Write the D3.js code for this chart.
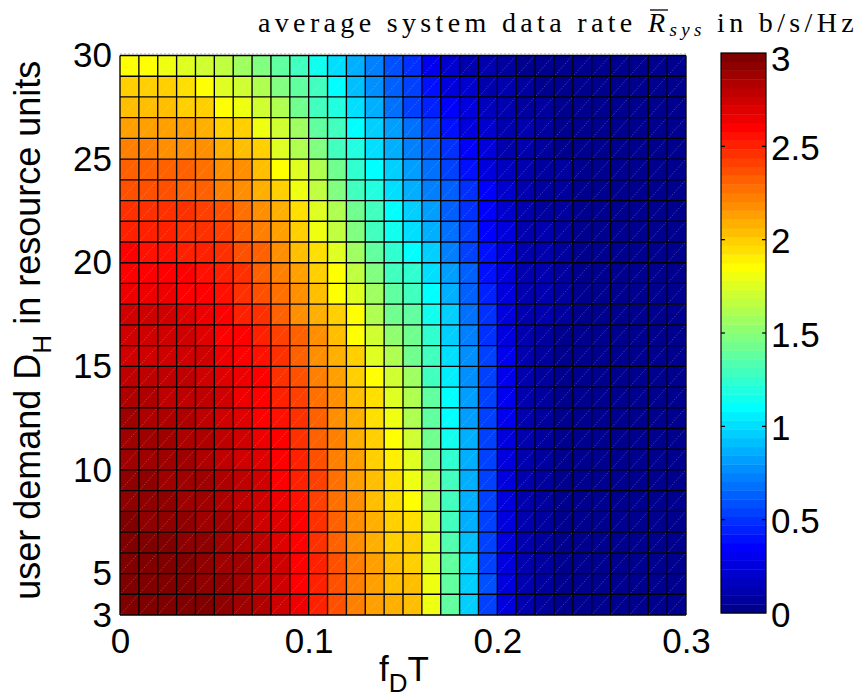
<!DOCTYPE html>
<html>
<head>
<meta charset="utf-8">
<script src="https://cdn.jsdelivr.net/npm/d3@7"></script>
<style>
  html, body { margin: 0; padding: 0; background: #fff; }
  svg { display: block; }
  .tick text { font-family: "Liberation Sans", Arial, sans-serif; font-size: 35px; fill: #000; }
</style>
</head>
<body>
<svg id="chart" width="862" height="699"></svg>
<script>
// ---------------- data ----------------
// grid edges along f_D T (x) and D_H (y)
const fdT = [0,0.01,0.02,0.03,0.04,0.05,0.06,0.07,0.08,0.09,0.10,0.11,0.12,0.13,0.14,0.15,
             0.16,0.17,0.18,0.19,0.20,0.21,0.22,0.23,0.24,0.25,0.26,0.27,0.28,0.29,0.30];
const demand = [3,4,5,6,7,8,9,10,11,12,13,14,15,16,17,18,19,20,21,22,23,24,25,26,27,28,29,30];

// average system data rate (b/s/Hz); one row per D_H = 3 ... 29, one value per f_D T cell 0 ... 0.29
const rate = [
 [2.99,3.00,3.00,2.99,2.96,2.93,2.89,2.82,2.74,2.65,2.52,2.38,2.24,2.13,2.09,2.06,1.81,1.36,0.94,0.56,0.28,0.12,0.07,0.04,0.04,0.04,0.04,0.04,0.04,0.04], // D=3
 [2.99,3.00,2.99,2.98,2.95,2.92,2.88,2.81,2.73,2.62,2.51,2.37,2.23,2.12,2.06,2.04,1.81,1.36,0.94,0.58,0.28,0.12,0.08,0.04,0.04,0.04,0.04,0.04,0.04,0.04], // D=4
 [2.99,2.99,2.99,2.96,2.94,2.90,2.87,2.80,2.72,2.61,2.50,2.36,2.21,2.11,2.04,2.01,1.78,1.36,0.94,0.56,0.28,0.12,0.08,0.04,0.04,0.04,0.04,0.04,0.04,0.04], // D=5
 [2.98,2.98,2.96,2.95,2.93,2.89,2.85,2.79,2.71,2.60,2.48,2.33,2.20,2.09,2.01,1.98,1.76,1.34,0.92,0.56,0.28,0.12,0.08,0.04,0.04,0.04,0.04,0.04,0.04,0.04], // D=6
 [2.96,2.95,2.95,2.93,2.90,2.87,2.82,2.76,2.68,2.58,2.45,2.31,2.18,2.07,1.98,1.94,1.71,1.31,0.89,0.56,0.28,0.12,0.08,0.04,0.04,0.04,0.04,0.04,0.04,0.04], // D=7
 [2.94,2.94,2.93,2.90,2.88,2.85,2.80,2.74,2.66,2.55,2.42,2.28,2.16,2.05,1.96,1.87,1.64,1.27,0.89,0.54,0.28,0.14,0.08,0.04,0.04,0.04,0.04,0.04,0.04,0.04], // D=8
 [2.93,2.92,2.90,2.88,2.86,2.82,2.78,2.72,2.61,2.53,2.40,2.26,2.14,2.04,1.94,1.81,1.60,1.27,0.89,0.54,0.28,0.14,0.08,0.04,0.04,0.04,0.04,0.04,0.04,0.04], // D=9
 [2.89,2.89,2.88,2.87,2.85,2.81,2.75,2.69,2.60,2.51,2.37,2.24,2.12,2.01,1.92,1.76,1.50,1.22,0.85,0.52,0.28,0.14,0.08,0.04,0.04,0.04,0.04,0.04,0.04,0.04], // D=10
 [2.88,2.88,2.86,2.85,2.82,2.79,2.73,2.67,2.58,2.47,2.34,2.21,2.10,1.99,1.87,1.69,1.45,1.17,0.85,0.52,0.28,0.14,0.08,0.04,0.04,0.04,0.04,0.04,0.04,0.04], // D=11
 [2.86,2.85,2.84,2.82,2.80,2.75,2.71,2.62,2.54,2.44,2.31,2.18,2.07,1.96,1.81,1.62,1.38,1.11,0.80,0.52,0.31,0.14,0.08,0.04,0.04,0.04,0.04,0.04,0.04,0.04], // D=12
 [2.84,2.82,2.81,2.80,2.78,2.73,2.67,2.61,2.52,2.40,2.27,2.16,2.04,1.94,1.76,1.60,1.36,1.11,0.80,0.52,0.31,0.14,0.08,0.04,0.04,0.04,0.04,0.04,0.04,0.04], // D=13
 [2.80,2.80,2.79,2.78,2.75,2.69,2.65,2.59,2.48,2.37,2.24,2.12,2.01,1.87,1.69,1.55,1.31,1.06,0.77,0.52,0.31,0.14,0.08,0.04,0.04,0.04,0.04,0.04,0.04,0.04], // D=14
 [2.76,2.76,2.75,2.74,2.72,2.65,2.61,2.55,2.45,2.33,2.20,2.09,1.99,1.78,1.64,1.45,1.31,1.03,0.77,0.52,0.31,0.14,0.08,0.04,0.04,0.04,0.04,0.04,0.04,0.04], // D=15
 [2.75,2.75,2.73,2.73,2.71,2.61,2.58,2.51,2.40,2.30,2.16,2.03,1.87,1.71,1.54,1.43,1.22,0.96,0.75,0.49,0.28,0.14,0.08,0.04,0.04,0.04,0.04,0.04,0.04,0.04], // D=16
 [2.74,2.74,2.72,2.69,2.65,2.58,2.52,2.44,2.33,2.20,2.09,1.97,1.83,1.64,1.45,1.36,1.17,0.94,0.68,0.47,0.28,0.14,0.10,0.07,0.04,0.04,0.04,0.04,0.04,0.04], // D=17
 [2.67,2.67,2.65,2.61,2.58,2.54,2.48,2.39,2.27,2.16,2.04,1.87,1.74,1.55,1.36,1.30,1.08,0.87,0.63,0.45,0.26,0.14,0.10,0.07,0.04,0.04,0.04,0.04,0.04,0.04], // D=18
 [2.61,2.61,2.61,2.58,2.55,2.51,2.44,2.34,2.23,2.11,1.99,1.83,1.67,1.48,1.29,1.22,1.01,0.82,0.61,0.42,0.26,0.14,0.10,0.07,0.04,0.04,0.04,0.04,0.04,0.04], // D=19
 [2.58,2.57,2.55,2.53,2.51,2.46,2.39,2.30,2.18,2.06,1.94,1.76,1.57,1.38,1.22,1.11,0.94,0.75,0.56,0.40,0.24,0.14,0.10,0.07,0.04,0.04,0.04,0.04,0.04,0.04], // D=20
 [2.51,2.51,2.51,2.48,2.46,2.41,2.34,2.25,2.13,2.01,1.81,1.67,1.50,1.31,1.17,0.99,0.85,0.68,0.52,0.36,0.24,0.14,0.10,0.07,0.04,0.04,0.04,0.04,0.04,0.04], // D=21
 [2.46,2.46,2.45,2.44,2.41,2.36,2.27,2.18,2.09,1.94,1.74,1.60,1.41,1.27,1.11,0.94,0.80,0.63,0.49,0.35,0.21,0.12,0.08,0.07,0.04,0.04,0.04,0.04,0.04,0.04], // D=22
 [2.39,2.39,2.39,2.34,2.30,2.25,2.18,2.09,1.99,1.81,1.67,1.50,1.31,1.20,1.01,0.87,0.75,0.61,0.47,0.33,0.19,0.12,0.08,0.07,0.04,0.04,0.04,0.04,0.04,0.04], // D=23
 [2.32,2.32,2.31,2.30,2.27,2.20,2.16,2.06,1.87,1.74,1.60,1.41,1.22,1.11,0.96,0.82,0.70,0.54,0.42,0.28,0.17,0.12,0.08,0.07,0.04,0.04,0.04,0.04,0.04,0.04], // D=24
 [2.22,2.22,2.20,2.18,2.16,2.09,2.04,1.97,1.78,1.64,1.50,1.31,1.20,1.01,0.87,0.73,0.61,0.47,0.35,0.24,0.14,0.10,0.07,0.04,0.04,0.04,0.04,0.04,0.04,0.04], // D=25
 [2.13,2.13,2.13,2.11,2.09,2.01,1.97,1.81,1.71,1.55,1.36,1.27,1.11,0.96,0.82,0.70,0.56,0.42,0.28,0.19,0.12,0.10,0.07,0.04,0.04,0.04,0.04,0.04,0.04,0.04], // D=26
 [2.04,2.04,2.04,2.01,1.99,1.87,1.81,1.69,1.60,1.45,1.31,1.20,0.99,0.85,0.68,0.56,0.45,0.36,0.26,0.17,0.12,0.08,0.07,0.04,0.04,0.04,0.04,0.04,0.04,0.04], // D=27
 [1.99,1.99,1.97,1.94,1.87,1.78,1.69,1.60,1.50,1.36,1.27,1.11,0.92,0.77,0.63,0.52,0.40,0.28,0.21,0.12,0.10,0.07,0.04,0.04,0.04,0.04,0.04,0.04,0.04,0.04], // D=28
 [1.86,1.87,1.81,1.76,1.71,1.67,1.57,1.50,1.38,1.27,1.17,1.01,0.87,0.75,0.59,0.47,0.31,0.21,0.12,0.10,0.07,0.04,0.04,0.04,0.04,0.04,0.04,0.04,0.04,0.04]  // D=29
];

const xTicks = [0, 0.1, 0.2, 0.3];
const xTickLabels = ["0", "0.1", "0.2", "0.3"];
const yTicks = [3, 5, 10, 15, 20, 25, 30];
const cTicks = [0, 0.5, 1, 1.5, 2, 2.5, 3];
const cTickLabels = ["0", "0.5", "1", "1.5", "2", "2.5", "3"];
const nColors = 64;
const cMax = 3;

// ---------------- drawing ----------------
const svg = d3.select("#chart");
const plot = {left: 120, right: 686, top: 55.5, bottom: 615};
const x = d3.scaleLinear().domain([0, 0.3]).range([plot.left, plot.right]);
const y = d3.scaleLinear().domain([3, 30]).range([plot.bottom, plot.top]);
const cbar = {left: 721, right: 766};
const cy = d3.scaleLinear().domain([0, cMax]).range([613, 53]);

function jet(t) {
  const cl = v => Math.max(0, Math.min(1, v));
  const r = cl(1.5 - Math.abs(4 * t - 3));
  const g = cl(1.5 - Math.abs(4 * t - 2));
  const b = cl(1.5 - Math.abs(4 * t - 1));
  return d3.rgb(Math.round(r * 255), Math.round(g * 255), Math.round(b * 255)).formatHex();
}
// 64-level jet colormap over [0, 3]
const color = d3.scaleQuantize()
  .domain([0, cMax])
  .range(d3.range(1, nColors + 1).map(k => jet(k / nColors)));
function colorOf(v) {
  // level k covers (3(k-1)/64, 3k/64]
  let k = Math.ceil(v / cMax * nColors - 1e-9);
  k = Math.max(1, Math.min(nColors, k));
  return color.range()[k - 1];
}

const cells = [];
rate.forEach((row, i) => {
  row.forEach((v, j) => {
    cells.push({x0: fdT[j], x1: fdT[j + 1], y0: demand[i], y1: demand[i + 1], v});
  });
});

const gCells = svg.append("g");
gCells.selectAll("rect").data(cells).join("rect")
  .attr("x", d => x(d.x0))
  .attr("y", d => y(d.y1))
  .attr("width", d => x(d.x1) - x(d.x0))
  .attr("height", d => y(d.y0) - y(d.y1))
  .attr("fill", d => colorOf(d.v));

// faint diagonal seams (triangulated faces)
gCells.selectAll("line.diag").data(cells).join("line")
  .attr("class", "diag")
  .attr("x1", d => x(d.x0) + 1).attr("y1", d => y(d.y0) - 1)
  .attr("x2", d => x(d.x1) - 1).attr("y2", d => y(d.y1) + 1)
  .attr("stroke", "#ffffff").attr("stroke-opacity", 0.3)
  .attr("stroke-width", 0.8).attr("stroke-dasharray", "1.5,1.5");

// black edges
const gEdges = svg.append("g").attr("stroke", "#000").attr("stroke-width", 1.35);
gEdges.selectAll("line.v").data(fdT).join("line").attr("class", "v")
  .attr("x1", d => x(d)).attr("x2", d => x(d))
  .attr("y1", y(3)).attr("y2", y(30));
gEdges.selectAll("line.h").data(demand).join("line").attr("class", "h")
  .attr("y1", d => y(d)).attr("y2", d => y(d))
  .attr("x1", x(0)).attr("x2", x(0.3));

// light dotted top axis line (visible above the surface edge)
svg.append("line")
  .attr("x1", x(0)).attr("x2", x(0.3))
  .attr("y1", plot.top - 1.5).attr("y2", plot.top - 1.5)
  .attr("stroke", "#aaa").attr("stroke-width", 1).attr("stroke-dasharray", "2,2");

// axes
const xAxis = svg.append("g").attr("transform", `translate(0,${plot.bottom})`)
  .call(d3.axisBottom(x).tickValues(xTicks).tickSize(0).tickPadding(13)
    .tickFormat((d, i) => xTickLabels[i]));
xAxis.select(".domain").remove();

const yAxis = svg.append("g").attr("transform", `translate(${plot.left},0)`)
  .call(d3.axisLeft(y).tickValues(yTicks).tickSize(0).tickPadding(8));
yAxis.select(".domain").remove();

// axis labels
const lblFont = '"Liberation Sans", Arial, sans-serif';
const xl = svg.append("text")
  .attr("x", (plot.left + plot.right) / 2 + 1).attr("y", 681)
  .attr("text-anchor", "middle").attr("font-family", lblFont).attr("font-size", 35);
xl.append("tspan").text("f");
xl.append("tspan").attr("font-size", 26).attr("dy", 11).text("D");
xl.append("tspan").attr("dy", -11).text("T");

const yl = svg.append("text")
  .attr("transform", `translate(40,${(plot.top + plot.bottom) / 2 - 5}) rotate(-90)`)
  .attr("text-anchor", "middle").attr("font-family", lblFont).attr("font-size", 36);
yl.append("tspan").text("user demand D");
yl.append("tspan").attr("font-size", 26).attr("dy", 11).text("H");
yl.append("tspan").attr("dy", -11).text(" in resource units");

// colorbar
const levels = d3.range(nColors);
svg.append("g").selectAll("rect").data(levels).join("rect")
  .attr("x", cbar.left)
  .attr("y", k => cy((k + 1) * cMax / nColors))
  .attr("width", cbar.right - cbar.left)
  .attr("height", k => cy(k * cMax / nColors) - cy((k + 1) * cMax / nColors) + 0.4)
  .attr("fill", k => color.range()[k]);
svg.append("rect")
  .attr("x", cbar.left).attr("y", cy(cMax))
  .attr("width", cbar.right - cbar.left).attr("height", cy(0) - cy(cMax))
  .attr("fill", "none").attr("stroke", "#000").attr("stroke-width", 1.2);
const gct = svg.append("g").attr("stroke", "#000").attr("stroke-width", 1.2);
gct.selectAll("line.l").data(cTicks.slice(1, -1)).join("line").attr("class", "l")
  .attr("x1", cbar.left).attr("x2", cbar.left + 4)
  .attr("y1", d => cy(d)).attr("y2", d => cy(d));
gct.selectAll("line.r").data(cTicks.slice(1, -1)).join("line").attr("class", "r")
  .attr("x1", cbar.right - 4).attr("x2", cbar.right)
  .attr("y1", d => cy(d)).attr("y2", d => cy(d));
const cAxis = svg.append("g").attr("transform", `translate(${cbar.right},0)`)
  .call(d3.axisRight(cy).tickValues(cTicks).tickSize(0).tickPadding(5)
    .tickFormat((d, i) => cTickLabels[i]));
cAxis.select(".domain").remove();
cAxis.selectAll(".tick text").attr("dy", "0.38em");
cAxis.selectAll(".tick").filter(d => d === cMax).select("text").attr("dy", "0.5em");

// colorbar title (LaTeX style)
const serif = '"Liberation Serif", "Times New Roman", serif';
const title = svg.append("text")
  .attr("x", 258).attr("y", 32)
  .attr("font-family", serif).attr("font-size", 28);
title.append("tspan").text("average system data rate ");
const rT = title.append("tspan").attr("font-style", "italic").text("R");
title.append("tspan").attr("font-style", "italic").attr("font-size", 19).attr("dy", 4).text("sys");
title.append("tspan").attr("dy", -4).text(" in b/s/Hz");
// stretch spacing to the reference width
const node = title.node();
const nChars = node.getNumberOfChars();
const w = node.getComputedTextLength();
const targetW = 600;
title.attr("letter-spacing", ((targetW - w) / nChars).toFixed(3));
// overline above R
const rIdx = "average system data rate ".length;
const p0 = node.getStartPositionOfChar(rIdx);
svg.append("line")
  .attr("x1", p0.x + 2).attr("x2", p0.x + 20)
  .attr("y1", 10).attr("y2", 10)
  .attr("stroke", "#000").attr("stroke-width", 1.3);
</script>
</body>
</html>
